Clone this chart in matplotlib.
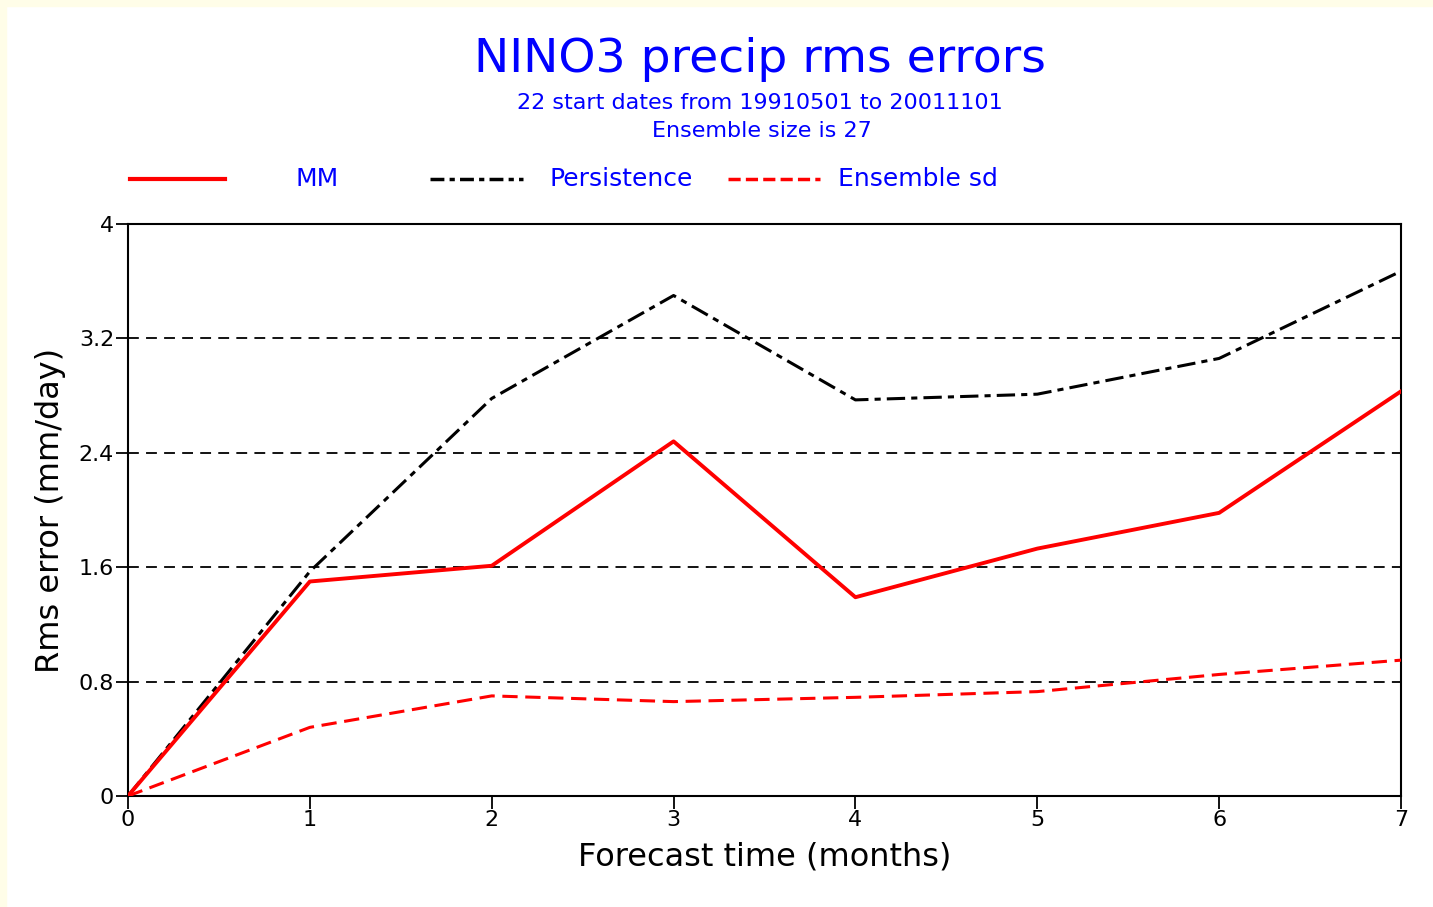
import matplotlib.pyplot as plt
from matplotlib.patches import Rectangle

# data
months = [0, 1, 2, 3, 4, 5, 6, 7]
mm = [0, 1.50, 1.61, 2.48, 1.39, 1.73, 1.98, 2.83]
persistence = [0, 1.57, 2.78, 3.50, 2.77, 2.81, 3.06, 3.67]
ens_sd = [0, 0.48, 0.70, 0.66, 0.69, 0.73, 0.85, 0.95]

yticks = [0, 0.8, 1.6, 2.4, 3.2, 4]
ytick_labels = ["0", "0.8", "1.6", "2.4", "3.2", "4"]

W, H = 1433, 907
fig = plt.figure(figsize=(W / 100, H / 100), dpi=100)
fig.patch.set_facecolor("white")

# cream strip on the left / top edge
fig.patches.append(Rectangle((0, 0), 6 / W, 1, transform=fig.transFigure, color="#fffde8", zorder=0))
fig.patches.append(Rectangle((0, 1 - 6 / H), 1, 6 / H, transform=fig.transFigure, color="#fffde8", zorder=0))

ax = fig.add_axes([128 / W, 1 - 796 / H, (1401 - 128) / W, (796 - 224) / H])

for y in yticks[1:-1]:
    ax.axhline(y, color="black", lw=1.3, ls=(0, (6, 4)), zorder=1)

ax.plot(months, persistence, color="black", lw=2.2, ls=(0, (6, 2, 2, 2)), zorder=3)
ax.plot(months, mm, color="red", lw=2.8, zorder=4)
ax.plot(months, ens_sd, color="red", lw=2.2, ls=(0, (5, 2.5)), zorder=3)

ax.set_xlim(0, 7)
ax.set_ylim(0, 4)
ax.set_xticks(months)
ax.set_yticks(yticks)
ax.set_yticklabels(ytick_labels)
ax.tick_params(direction="out", length=9, width=1.3, labelsize=16, pad=1)
for s in ax.spines.values():
    s.set_linewidth(1.5)

ax.set_xlabel("Forecast time (months)", fontsize=23, labelpad=8)
ax.set_ylabel("Rms error (mm/day)", fontsize=23)
ax.yaxis.set_label_coords((66 - 128) / (1401 - 128), 0.5)

# titles
fig.text(760 / W, 1 - 60 / H, "NINO3 precip rms errors", color="blue", fontsize=34, ha="center", va="center")
fig.text(760 / W, 1 - 103 / H, "22 start dates from 19910501 to 20011101", color="blue", fontsize=16, ha="center", va="center")
fig.text(762 / W, 1 - 131 / H, "Ensemble size is 27", color="blue", fontsize=16, ha="center", va="center")

# legend row drawn by hand
ly = 1 - 179 / H
leg = [
    ((130, 225), dict(color="red", lw=3), "MM", 295),
    ((430, 523), dict(color="black", lw=2.5, ls=(0, (4, 1.5, 1.5, 1.5))), "Persistence", 549),
    ((728, 820), dict(color="red", lw=2.5, ls=(0, (3.5, 1.5))), "Ensemble sd", 838),
]
for (x0, x1), style, label, tx in leg:
    fig.add_artist(plt.Line2D([x0 / W, x1 / W], [ly, ly], transform=fig.transFigure, **style))
    fig.text(tx / W, ly, label, color="blue", fontsize=18, ha="left", va="center")

plt.savefig("out.png", dpi=100)
